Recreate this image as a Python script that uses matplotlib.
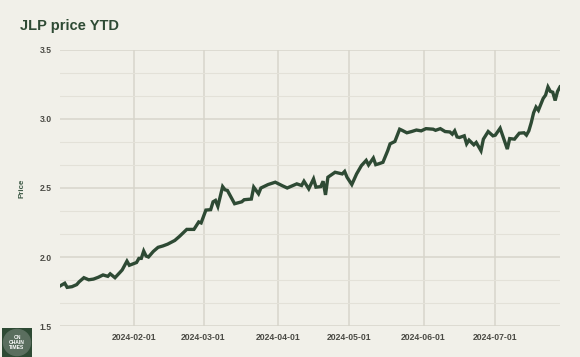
import matplotlib
matplotlib.use("Agg")
import matplotlib.pyplot as plt
import matplotlib.dates as mdates
from matplotlib.ticker import FixedLocator
import numpy as np
import pandas as pd

dates = [
    "2024-01-01", "2024-01-02", "2024-01-03", "2024-01-04", "2024-01-06", "2024-01-08",
    "2024-01-09", "2024-01-11", "2024-01-13", "2024-01-15", "2024-01-17", "2024-01-19",
    "2024-01-21", "2024-01-22", "2024-01-24", "2024-01-26", "2024-01-27", "2024-01-29",
    "2024-01-30", "2024-02-02", "2024-02-03", "2024-02-04", "2024-02-05", "2024-02-06",
    "2024-02-07", "2024-02-09", "2024-02-11", "2024-02-13", "2024-02-15", "2024-02-18",
    "2024-02-20", "2024-02-23", "2024-02-26", "2024-02-28", "2024-02-29", "2024-03-02",
    "2024-03-04", "2024-03-05", "2024-03-06", "2024-03-07", "2024-03-09", "2024-03-10",
    "2024-03-11", "2024-03-14", "2024-03-17", "2024-03-18", "2024-03-21", "2024-03-22",
    "2024-03-24", "2024-03-25", "2024-03-28", "2024-03-31", "2024-04-03", "2024-04-05",
    "2024-04-09", "2024-04-11", "2024-04-12", "2024-04-14", "2024-04-16", "2024-04-17",
    "2024-04-19", "2024-04-20", "2024-04-21", "2024-04-22", "2024-04-25", "2024-04-28",
    "2024-04-29", "2024-04-30", "2024-05-02", "2024-05-04", "2024-05-06", "2024-05-08",
    "2024-05-09", "2024-05-11", "2024-05-12", "2024-05-13", "2024-05-15", "2024-05-17",
    "2024-05-18", "2024-05-20", "2024-05-22", "2024-05-23", "2024-05-25", "2024-05-27",
    "2024-05-29", "2024-05-31", "2024-06-02", "2024-06-05", "2024-06-06", "2024-06-08",
    "2024-06-10", "2024-06-12", "2024-06-13", "2024-06-14", "2024-06-15", "2024-06-16",
    "2024-06-18", "2024-06-19", "2024-06-20", "2024-06-22", "2024-06-23", "2024-06-25",
    "2024-06-26", "2024-06-28", "2024-06-30", "2024-07-01", "2024-07-03", "2024-07-06",
    "2024-07-07", "2024-07-09", "2024-07-11", "2024-07-13", "2024-07-14", "2024-07-15",
    "2024-07-16", "2024-07-17", "2024-07-18", "2024-07-19", "2024-07-21", "2024-07-22",
    "2024-07-23", "2024-07-24", "2024-07-25", "2024-07-26", "2024-07-27", "2024-07-28",
]
prices = [
    1.79, 1.80, 1.81, 1.78, 1.785, 1.80,
    1.82, 1.85, 1.835, 1.84, 1.853, 1.87,
    1.86, 1.878, 1.85, 1.887, 1.906, 1.97,
    1.94, 1.96, 1.99, 1.99, 2.043, 2.007,
    2.00, 2.04, 2.07, 2.08, 2.093, 2.12,
    2.15, 2.20, 2.20, 2.254, 2.247, 2.34,
    2.343, 2.40, 2.41, 2.367, 2.51, 2.487,
    2.482, 2.386, 2.40, 2.415, 2.42, 2.506,
    2.458, 2.50, 2.525, 2.542, 2.516, 2.50,
    2.53, 2.518, 2.549, 2.494, 2.566, 2.506,
    2.51, 2.549, 2.45, 2.578, 2.614, 2.602,
    2.62, 2.578, 2.525, 2.602, 2.662, 2.70,
    2.667, 2.717, 2.669, 2.674, 2.686, 2.77,
    2.82, 2.837, 2.926, 2.918, 2.90, 2.909,
    2.92, 2.914, 2.93, 2.926, 2.918, 2.93,
    2.909, 2.906, 2.89, 2.914, 2.87, 2.866,
    2.878, 2.82, 2.847, 2.813, 2.83, 2.77,
    2.854, 2.909, 2.878, 2.883, 2.933, 2.782,
    2.858, 2.854, 2.897, 2.90, 2.883, 2.914,
    2.973, 3.045, 3.086, 3.063, 3.149, 3.173,
    3.232, 3.20, 3.194, 3.134, 3.20, 3.232,
]
x_ticks = ["2024-02-01", "2024-03-01", "2024-04-01", "2024-05-01", "2024-06-01", "2024-07-01"]
y_ticks = [1.5, 2.0, 2.5, 3.0, 3.5]

BG = "#F1F0E9"
GREEN = "#2E4A34"
TXT = "#4a4a44"

plt.rcParams["font.family"] = ["Liberation Sans", "DejaVu Sans"]

fig = plt.figure(figsize=(5.8, 3.57), dpi=100, facecolor=BG)
ax = fig.add_axes([0.1034, 0.0868, 0.862, 0.7732], facecolor=BG)

d = pd.to_datetime(dates)
ax.plot(d, prices, color=GREEN, lw=2.4, solid_joinstyle="miter", zorder=3)

ax.set_xlim(pd.Timestamp("2024-01-01"), pd.Timestamp("2024-07-28"))
ax.set_ylim(1.5, 3.5)
ax.xaxis.set_major_locator(FixedLocator(mdates.date2num(pd.to_datetime(x_ticks))))
ax.set_xticklabels(x_ticks)
ax.set_yticks(y_ticks)
ax.set_yticklabels([f"{v:.1f}" for v in y_ticks])
ax.yaxis.set_minor_locator(FixedLocator(np.arange(1.5, 3.5, 0.5 / 3)))

ax.grid(which="major", color="#D7D5CB", lw=1.1, zorder=0)
ax.grid(which="minor", axis="y", color="#E3E1D8", lw=0.8, zorder=0)
for s in ax.spines.values():
    s.set_visible(False)
ax.tick_params(which="both", length=0)
ax.tick_params(axis="x", pad=5, labelsize=6.2, labelcolor=TXT)
ax.tick_params(axis="y", pad=6, labelsize=6.2, labelcolor=TXT)
for lab in ax.get_xticklabels() + ax.get_yticklabels():
    lab.set_fontweight("bold")

fig.text(22.5 / 580, 1 - 188 / 357, "Price", fontsize=5.8, fontweight="bold",
         color="#3E5A46", rotation=90, ha="center", va="center")

fig.text(20 / 580, 1 - 26 / 357, "JLP price YTD", fontsize=10.5, fontweight="bold",
         color=GREEN, ha="left", va="center")

# small logo box bottom-left
logo = fig.add_axes([2 / 580, 0, 30 / 580, 29 / 357])
logo.set_facecolor("#2E4A34")
logo.set_xticks([]); logo.set_yticks([])
for s in logo.spines.values():
    s.set_visible(False)
logo.add_patch(plt.Circle((0.5, 0.5), 0.45, color="#5a6e5e", transform=logo.transAxes))
logo.text(0.5, 0.5, "ON\nCHAIN\nTIMES", color="white", fontsize=3.6, fontweight="bold",
          ha="center", va="center", linespacing=1.1, transform=logo.transAxes)

fig.savefig("out.png", dpi=100, facecolor=BG)
